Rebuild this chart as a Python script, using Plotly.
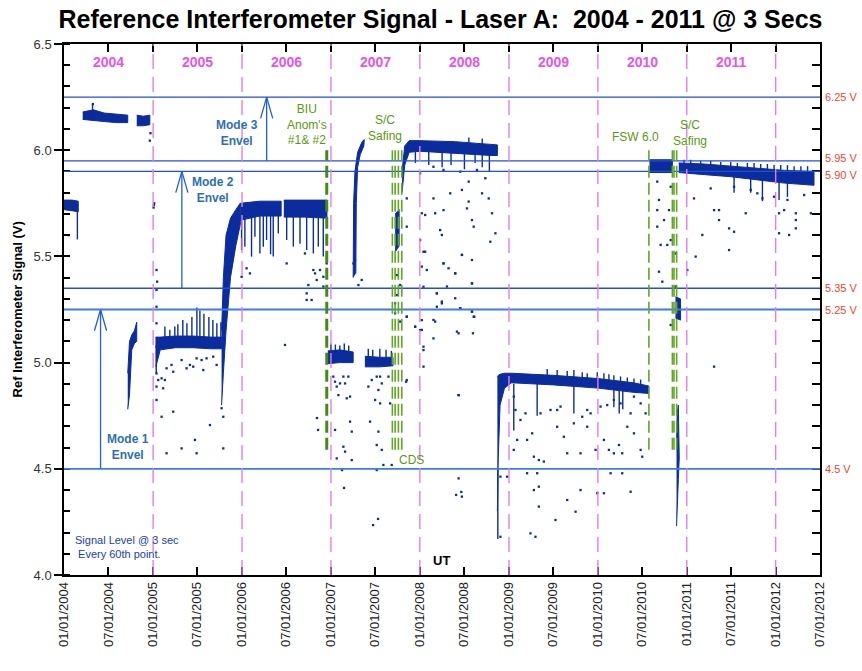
import plotly.graph_objects as go
import pandas as pd

# ---------------- DATA (decimal years, volts) ----------------
NAVY = "#0b2c9c"

# Dense signal bands: decimal year, upper, lower
band_2004a_t = [2004.00, 2004.09, 2004.16]
band_2004a_hi = [5.765, 5.765, 5.76]
band_2004a_lo = [5.72, 5.715, 5.71]

band_2004b_t = [2004.21, 2004.33, 2004.45, 2004.58, 2004.715]
band_2004b_hi = [6.18, 6.19, 6.175, 6.17, 6.165]
band_2004b_lo = [6.145, 6.14, 6.135, 6.13, 6.13]

band_2004c_t = [2004.816, 2004.89, 2004.963]
band_2004c_hi = [6.165, 6.16, 6.165]
band_2004c_lo = [6.115, 6.115, 6.12]

band_2004d_t = [2004.715, 2004.735, 2004.76, 2004.79, 2004.816]
band_2004d_hi = [4.95, 5.10, 5.13, 5.15, 5.19]
band_2004d_lo = [4.78, 4.85, 5.06, 5.09, 5.10]

band_2005_t = [2005.03, 2005.08, 2005.25, 2005.45, 2005.65, 2005.77]
band_2005_hi = [5.12, 5.12, 5.125, 5.125, 5.12, 5.12]
band_2005_lo = [4.98, 5.06, 5.07, 5.07, 5.065, 5.065]

band_2005r_t = [2005.77, 2005.79, 2005.82, 2005.87, 2005.93, 2005.98]
band_2005r_hi = [5.15, 5.40, 5.60, 5.68, 5.72, 5.75]
band_2005r_lo = [4.80, 4.95, 5.15, 5.40, 5.55, 5.65]

band_2006a_t = [2005.98, 2006.2, 2006.44]
band_2006a_hi = [5.75, 5.76, 5.76]
band_2006a_lo = [5.67, 5.69, 5.69]

band_2006b_t = [2006.47, 2006.7, 2006.955]
band_2006b_hi = [5.765, 5.765, 5.765]
band_2006b_lo = [5.685, 5.685, 5.68]

band_2007a_t = [2006.965, 2007.1, 2007.25]
band_2007a_hi = [5.055, 5.06, 5.05]
band_2007a_lo = [4.995, 5.0, 5.0]

band_2007b_t = [2007.382, 2007.55, 2007.698]
band_2007b_hi = [5.03, 5.025, 5.025]
band_2007b_lo = [4.98, 4.98, 4.985]

band_2007c_t = [2007.722, 2007.767]
band_2007c_hi = [5.70, 5.72]
band_2007c_lo = [5.52, 5.55]

band_2008_t = [2007.80, 2007.83, 2007.88, 2008.0, 2008.4, 2008.8, 2008.87]
band_2008_hi = [5.90, 6.02, 6.045, 6.045, 6.04, 6.03, 6.025]
band_2008_lo = [5.80, 5.93, 5.99, 5.995, 5.985, 5.975, 5.975]

band_2009_t = [2008.87, 2008.88, 2008.90, 2008.95, 2009.03, 2009.5, 2010.0, 2010.4, 2010.572]
band_2009_hi = [4.93, 4.94, 4.945, 4.95, 4.95, 4.94, 4.925, 4.905, 4.89]
band_2009_lo = [4.30, 4.55, 4.80, 4.88, 4.905, 4.895, 4.88, 4.86, 4.855]

band_2010_t = [2010.58, 2010.838]
band_2010_hi = [5.955, 5.955]
band_2010_lo = [5.895, 5.895]

band_2010b_t = [2010.873, 2010.93]
band_2010b_hi = [5.31, 5.30]
band_2010b_lo = [5.21, 5.20]

band_2010c_t = [2010.885, 2010.892, 2010.905, 2010.915]
band_2010c_hi = [4.60, 4.76, 4.80, 4.62]
band_2010c_lo = [4.23, 4.24, 4.45, 4.55]

band_2011_t = [2010.91, 2011.2, 2011.5, 2011.8, 2012.1, 2012.43]
band_2011_hi = [5.94, 5.935, 5.925, 5.915, 5.905, 5.90]
band_2011_lo = [5.895, 5.885, 5.875, 5.86, 5.845, 5.835]

# 2007 recovery curve (closed outline: decimal year, volts)
rise_2007_t = [2007.25, 2007.255, 2007.27, 2007.30, 2007.35, 2007.375, 2007.37, 2007.33, 2007.30, 2007.285, 2007.28]
rise_2007_v = [5.40, 5.75, 5.90, 5.99, 6.04, 6.05, 6.02, 5.98, 5.92, 5.75, 5.42]

# Vertical streaks / spikes: decimal year, low, high
streak_t = [2004.15, 2004.32, 2005.035,
            2005.132, 2005.188, 2005.244, 2005.278, 2005.334, 2005.380, 2005.436,
            2005.492, 2005.526, 2005.571, 2005.627, 2005.672, 2005.717, 2005.762,
            2005.995, 2006.032, 2006.107, 2006.145, 2006.201, 2006.239, 2006.276,
            2006.321, 2006.351, 2006.408, 2006.502, 2006.577, 2006.652, 2006.727,
            2006.802, 2006.858, 2006.914,
            2007.0, 2007.05, 2007.1, 2007.15, 2007.2,
            2007.42, 2007.47, 2007.55, 2007.62, 2007.68,
            2007.95, 2008.1, 2008.25, 2008.35, 2008.5, 2008.62, 2008.7, 2008.78,
            2008.55, 2008.7,
            2008.875,
            2009.430, 2009.542, 2009.655, 2009.730, 2009.824, 2009.880, 2009.993,
            2010.068, 2010.124, 2010.180, 2010.255, 2010.331, 2010.406, 2010.481,
            2009.054, 2009.317, 2009.73, 2010.18, 2010.24, 2010.28,
            2010.969, 2011.044, 2011.156, 2011.269, 2011.382, 2011.494, 2011.569,
            2011.682, 2011.757, 2011.832, 2011.907, 2011.982, 2012.057, 2012.132,
            2012.207, 2012.283, 2012.358,
            2011.532, 2011.719, 2011.851, 2012.038, 2012.132]
streak_lo = [5.58, 6.15, 4.95,
             5.10, 5.10, 5.10, 5.10, 5.10, 5.10, 5.10,
             5.10, 5.10, 5.10, 5.10, 5.10, 5.10, 5.10,
             5.53, 5.546, 5.499, 5.593, 5.514, 5.546, 5.577,
             5.51, 5.50, 5.608, 5.577, 5.546, 5.56, 5.53,
             5.514, 5.546, 5.50,
             5.03, 5.03, 5.03, 5.03, 5.03,
             5.0, 5.0, 5.0, 5.0, 5.0,
             5.94, 5.93, 5.92, 5.93, 5.91, 5.94, 5.92, 5.90,
             6.02, 6.02,
             4.17,
             4.92, 4.92, 4.92, 4.92, 4.92, 4.91, 4.91,
             4.90, 4.90, 4.89, 4.89, 4.88, 4.88, 4.87,
             4.68, 4.75, 4.76, 4.79, 4.76, 4.78,
             5.92, 5.92, 5.91, 5.91, 5.90, 5.90, 5.90,
             5.89, 5.89, 5.89, 5.88, 5.88, 5.88, 5.87,
             5.87, 5.87, 5.86,
             5.80, 5.80, 5.76, 5.765, 5.78]
streak_hi = [5.72, 6.215, 5.12,
             5.17, 5.155, 5.17, 5.18, 5.20, 5.185, 5.215,
             5.26, 5.245, 5.23, 5.215, 5.20, 5.185, 5.19,
             5.70, 5.70, 5.70, 5.70, 5.70, 5.70, 5.70,
             5.70, 5.70, 5.70, 5.70, 5.70, 5.70, 5.70,
             5.70, 5.70, 5.70,
             5.09, 5.085, 5.08, 5.09, 5.08,
             5.065, 5.06, 5.065, 5.06, 5.055,
             6.0, 6.0, 6.0, 6.0, 5.99, 5.99, 5.99, 5.99,
             6.06, 6.055,
             4.50,
             4.97, 4.965, 4.96, 4.965, 4.955, 4.95, 4.955,
             4.95, 4.945, 4.94, 4.935, 4.93, 4.925, 4.92,
             4.90, 4.90, 4.89, 4.88, 4.87, 4.87,
             5.955, 5.955, 5.95, 5.95, 5.945, 5.945, 5.94,
             5.94, 5.94, 5.935, 5.935, 5.93, 5.93, 5.93,
             5.925, 5.925, 5.925,
             5.88, 5.87, 5.86, 5.85, 5.85]

# Scattered individual samples: decimal year, volts
pts_t = [
    2004.324, 2004.05, 2004.963, 2004.97,
    2005.008, 2005.012, 2005.005, 2005.038, 2005.045,
    2005.038, 2005.038, 2005.038, 2005.038,
    2005.038, 2005.095, 2005.113, 2005.151, 2005.207, 2005.226, 2005.320, 2005.376,
    2005.451, 2005.489, 2005.545, 2005.601, 2005.676, 2005.714, 2005.095, 2005.226,
    2005.320, 2005.470, 2005.639, 2005.770, 2005.789, 2005.789, 2005.151, 2005.489,
    2005.038, 2005.038, 2005.057, 2005.132, 2005.414, 2005.564,
    2006.051, 2005.995, 2006.089, 2006.502, 2006.802, 2006.840, 2006.746, 2006.915, 2006.915,
    2006.727, 2006.783, 2006.821, 2006.877, 2006.952, 2006.727, 2006.708,
    2007.253, 2007.271, 2007.346, 2007.309, 2006.483, 2006.843, 2006.855,
    2007.027, 2007.046, 2007.065, 2007.102, 2007.140, 2007.159, 2007.196, 2007.215,
    2007.178, 2007.084, 2007.215, 2007.234, 2007.140, 2007.159, 2007.065, 2007.234,
    2007.046, 2007.421, 2007.459, 2007.515, 2007.553, 2007.572, 2007.534, 2007.497,
    2007.553, 2007.440, 2007.534, 2007.515, 2007.572, 2007.647, 2007.666, 2007.590,
    2007.684, 2007.515, 2007.853, 2007.947, 2008.003, 2007.853, 2008.041, 2008.022,
    2008.041, 2008.153, 2008.191, 2008.247, 2008.191, 2008.454, 2008.416, 2008.435,
    2008.585, 2008.604, 2008.172, 2008.266, 2008.473, 2008.585, 2008.322, 2008.397,
    2008.585, 2008.078, 2008.041, 2007.741, 2007.722, 2007.722, 2007.778, 2007.741,
    2007.778, 2007.474, 2007.530, 2007.147, 2007.125, 2008.407, 2008.465,
    2007.853, 2007.853, 2008.022, 2008.060, 2008.172, 2008.153, 2008.266, 2008.341,
    2008.228, 2008.247, 2008.472, 2008.548, 2008.585, 2008.604, 2008.529, 2008.698,
    2008.773, 2008.810, 2008.848, 2008.791, 2008.472, 2008.266, 2008.397, 2008.585,
    2008.060, 2008.022, 2008.003, 2008.041, 2008.191, 2008.247, 2008.397, 2008.454,
    2008.585, 2008.611, 2008.596, 2008.435, 2008.153, 2008.022, 2007.947, 2007.853,
    2008.041, 2007.846, 2008.435, 2008.435, 2008.472, 2008.304,
    2008.153, 2008.266, 2008.454, 2008.641, 2008.735, 2008.548, 2008.003,
    2009.054, 2009.073, 2009.054, 2009.186, 2009.204, 2009.261, 2009.280, 2009.336,
    2009.392, 2009.542, 2009.617, 2009.655, 2009.730, 2009.805, 2009.824, 2009.918,
    2009.974, 2010.068, 2010.124, 2010.180, 2010.237, 2010.274, 2010.331, 2010.406,
    2010.481, 2010.499, 2010.537, 2010.255, 2010.180, 2010.105, 2010.030, 2009.880,
    2009.580, 2009.467, 2009.355, 2009.129, 2009.092, 2009.317, 2009.336, 2009.336,
    2009.280, 2009.655, 2009.805, 2009.993, 2010.068, 2010.143, 2010.274, 2010.368,
    2009.749, 2009.523, 2009.242, 2009.298, 2008.904, 2008.904, 2008.979, 2009.204,
    2009.880, 2009.542, 2010.368, 2010.406, 2010.481,
    2010.668, 2010.687, 2010.668, 2010.668, 2010.744, 2010.800, 2010.706, 2010.781,
    2010.687, 2010.725, 2010.819, 2010.819, 2010.819, 2010.875, 2010.875, 2011.006,
    2011.081, 2011.100, 2011.175, 2011.307, 2011.363, 2011.363, 2011.476, 2011.532,
    2011.476, 2011.307, 2011.663, 2011.851, 2012.038, 2012.095, 2012.226, 2012.226,
    2012.226, 2012.038, 2012.151, 2012.395, 2011.719, 2011.532, 2011.794, 2011.269,
    2011.982, 2012.132, 2012.320]
pts_v = [
    6.217, 5.60, 6.045, 6.08,
    5.742, 5.75, 5.73, 5.436, 5.381,
    5.342, 5.263, 5.185, 5.075,
    4.949, 4.926, 4.879, 4.973, 4.989, 4.957, 5.012, 4.973,
    4.981, 5.020, 5.012, 5.020, 5.028, 4.989, 4.745, 4.769,
    4.596, 4.636, 4.706, 4.785, 4.596, 4.745, 4.573, 4.573,
    4.887, 4.824, 4.918, 4.918, 4.989, 4.965,
    5.444, 5.404, 5.420, 5.467, 5.436, 5.389, 5.365, 5.404, 5.358,
    5.295, 5.295, 5.420, 5.436, 5.467, 5.326, 5.514,
    5.467, 5.483, 5.389, 5.365, 5.083, 4.739, 4.683,
    4.934, 4.910, 4.887, 4.902, 4.934, 4.902, 4.934, 4.840,
    4.832, 4.847, 4.722, 4.675, 4.604, 4.581, 4.549, 4.541,
    4.683, 4.887, 4.918, 4.934, 4.934, 4.902, 4.871, 4.824,
    4.808, 4.722, 4.675, 4.612, 4.589, 4.934, 4.808, 4.518,
    4.518, 4.494, 5.216, 5.169, 5.153, 4.918, 5.075, 5.200,
    4.981, 5.114, 5.326, 5.279, 5.263, 5.255, 5.146, 4.847,
    5.240, 5.216, 5.193, 5.467, 5.507, 5.483, 5.444, 5.420,
    5.373, 5.436, 5.522, 5.412, 5.279, 5.232, 5.193, 5.318,
    5.365, 4.235, 4.264, 4.410, 4.494, 4.377, 4.391,
    5.773, 5.640, 5.703, 5.695, 5.703, 5.773, 5.718, 5.797,
    5.624, 5.601, 5.813, 5.758, 5.671, 5.640, 5.726, 5.797,
    5.773, 5.703, 5.609, 5.569, 5.507, 5.467, 5.420, 5.373,
    5.522, 5.452, 5.577, 5.357, 5.326, 5.287, 5.303, 5.256,
    5.240, 5.216, 5.138, 5.138, 5.201, 5.154, 5.169, 5.216,
    5.059, 4.910, 4.847, 4.455, 4.369, 5.358,
    5.922, 5.907, 5.899, 5.907, 5.868, 5.852, 5.891,
    4.840, 4.777, 4.589, 4.761, 4.636, 4.667, 4.557, 4.541,
    4.534, 4.698, 4.651, 4.573, 4.714, 4.573, 4.745, 4.761,
    4.589, 4.636, 4.589, 4.573, 4.612, 4.573, 4.698, 4.667,
    4.589, 4.557, 4.761, 4.808, 4.824, 4.800, 4.793, 4.698,
    4.793, 4.777, 4.761, 4.730, 4.636, 4.479, 4.416, 4.322,
    4.400, 4.353, 4.400, 4.385, 4.385, 4.479, 4.479, 4.392,
    4.298, 4.259, 4.196, 4.180, 4.180, 4.463, 4.463, 4.479,
    4.777, 4.777, 4.761, 4.840, 4.808,
    5.852, 5.766, 5.718, 5.640, 5.671, 5.718, 5.554, 5.554,
    5.428, 5.381, 5.577, 5.828, 5.177, 5.514, 5.358, 5.436,
    5.773, 5.499, 5.601, 5.718, 5.718, 5.671, 5.632, 5.616,
    5.530, 4.981, 5.703, 5.773, 5.703, 5.718, 5.703, 5.671,
    5.632, 5.609, 5.601, 5.703, 5.813, 5.828, 5.797, 5.820,
    5.781, 5.766, 5.789]

# Reference levels
env_levels = [6.25, 5.95, 5.90, 5.35, 5.25, 4.5]
env_labels = ["6.25 V", "5.95 V", "5.90 V", "5.35 V", "5.25 V", "4.5 V"]
env_label_shift = [0, 3, -4, 0, 0, 0]

# Mode envelope arrows: decimal year, from, to
arrow_t = [2004.41, 2005.323, 2006.277]
arrow_from = [4.5, 5.35, 5.95]
arrow_to = [5.25, 5.90, 6.25]
mode_text = ["Mode 1<br>Envel", "Mode 2<br>Envel", "Mode 3<br>Envel"]
mode_text_t = [2004.715, 2005.676, 2005.939]
mode_text_v = [4.603, 5.813, 6.08]

# Events (green dashed lines): decimal year, strong flag
event_t = [2006.953, 2007.691, 2007.722, 2007.759, 2007.797, 2010.574, 2010.838, 2010.856, 2010.886]
event_strong = [True, False, False, False, False, False, False, False, False]
event_top, event_bottom = 6.0, 4.59
event_text = ["BIU<br>Anom's<br>#1& #2", "S/C<br>Safing", "CDS", "FSW 6.0", "S/C<br>Safing"]
event_text_t = [2006.727, 2007.609, 2007.91, 2010.425, 2011.036]
event_text_v = [6.119, 6.105, 4.541, 6.061, 6.082]

years = list(range(2004, 2012))
year_boundaries = list(range(2005, 2013))

tick_dates = ["2004-01-01", "2004-07-01", "2005-01-01", "2005-07-01", "2006-01-01",
              "2006-07-01", "2007-01-01", "2007-07-01", "2008-01-01", "2008-07-01",
              "2009-01-01", "2009-07-01", "2010-01-01", "2010-07-01", "2011-01-01",
              "2011-07-01", "2012-01-01", "2012-07-01"]
tick_text = ["01/01/2004", "07/01/2004", "01/01/2005", "07/01/2005", "01/01/2006",
             "07/01/2006", "01/01/2007", "07/01/2007", "01/01/2008", "07/01/2008",
             "01/01/2009", "07/01/2009", "01/01/2010", "07/01/2010", "01/01/2011",
             "07/01/2011", "01/01/2012", "07/01/2012"]


# ---------------- helpers ----------------
def d(v):
    if isinstance(v, (list, tuple)):
        return [d(a) for a in v]
    y = int(v)
    s = pd.Timestamp(y, 1, 1)
    e = pd.Timestamp(y + 1, 1, 1)
    return s + (v - y) * (e - s)


FONT = "Liberation Sans, Arial, sans-serif"
fig = go.Figure()

bands = [
    (band_2004a_t, band_2004a_hi, band_2004a_lo), (band_2004b_t, band_2004b_hi, band_2004b_lo),
    (band_2004c_t, band_2004c_hi, band_2004c_lo), (band_2004d_t, band_2004d_hi, band_2004d_lo),
    (band_2005_t, band_2005_hi, band_2005_lo), (band_2005r_t, band_2005r_hi, band_2005r_lo),
    (band_2006a_t, band_2006a_hi, band_2006a_lo), (band_2006b_t, band_2006b_hi, band_2006b_lo),
    (band_2007a_t, band_2007a_hi, band_2007a_lo), (band_2007b_t, band_2007b_hi, band_2007b_lo),
    (band_2007c_t, band_2007c_hi, band_2007c_lo), (band_2008_t, band_2008_hi, band_2008_lo),
    (band_2009_t, band_2009_hi, band_2009_lo), (band_2010_t, band_2010_hi, band_2010_lo),
    (band_2010b_t, band_2010b_hi, band_2010b_lo), (band_2010c_t, band_2010c_hi, band_2010c_lo),
    (band_2011_t, band_2011_hi, band_2011_lo),
]
for t, hi, lo in bands:
    fig.add_trace(go.Scatter(x=d(t + t[::-1]), y=hi + lo[::-1], fill="toself", mode="lines",
                             line=dict(color=NAVY, width=1.0), fillcolor=NAVY,
                             hoverinfo="skip", showlegend=False))
fig.add_trace(go.Scatter(x=d(rise_2007_t), y=rise_2007_v, fill="toself", mode="lines",
                         line=dict(color=NAVY, width=1.0), fillcolor=NAVY, showlegend=False))

sx, sy = [], []
for t, lo, hi in zip(streak_t, streak_lo, streak_hi):
    sx += [d(t), d(t), None]
    sy += [lo, hi, None]
fig.add_trace(go.Scatter(x=sx, y=sy, mode="lines", line=dict(color=NAVY, width=1.4), showlegend=False))

fig.add_trace(go.Scatter(x=d(pts_t), y=pts_v, mode="markers",
                         marker=dict(symbol="square", size=2.3, color=NAVY, line=dict(width=0)),
                         showlegend=False))

# horizontal envelope lines
for lv in env_levels:
    col = "#3b7bf0" if lv in (5.25, 4.5) else "#1f4fd8"
    wid = 1.8 if lv in (5.25, 4.5) else 1.3
    fig.add_shape(type="line", xref="paper", x0=0, x1=1, yref="y", y0=lv, y1=lv,
                  line=dict(color=col, width=wid), layer="above")

# year boundaries
for yb in year_boundaries:
    fig.add_shape(type="line", xref="x", x0=d(yb), x1=d(yb), yref="paper", y0=0, y1=1,
                  line=dict(color="#e57cef", width=1.4, dash="15px,8px"), layer="above")

# events
for t, strong in zip(event_t, event_strong):
    fig.add_shape(type="line", xref="x", x0=d(t), x1=d(t), yref="y", y0=event_bottom, y1=event_top,
                  line=dict(color="#3f8f0c" if strong else "#62a624", width=3 if strong else 1.6,
                            dash="12px,5px"), layer="above")

# arrows
ax, ay = [], []
wing = pd.Timedelta(days=25)
for t, a, b in zip(arrow_t, arrow_from, arrow_to):
    ax += [d(t), d(t), None, d(t) - wing, d(t), d(t) + wing, None]
    ay += [a, b, None, b - 0.1, b, b - 0.1, None]
fig.add_trace(go.Scatter(x=ax, y=ay, mode="lines", line=dict(color="#1f5fe0", width=1.3), showlegend=False))

ann = []
for txt, t, v in zip(mode_text, mode_text_t, mode_text_v):
    ann.append(dict(x=d(t), y=v, xref="x", yref="y", text="<b>" + txt + "</b>", showarrow=False,
                    font=dict(family=FONT, size=12, color="#2e6fb3")))
for txt, t, v in zip(event_text, event_text_t, event_text_v):
    ann.append(dict(x=d(t), y=v, xref="x", yref="y", text=txt, showarrow=False,
                    font=dict(family=FONT, size=12, color="#5a9a12")))
for yv in years:
    ann.append(dict(x=d(yv + 0.5), y=6.415, xref="x", yref="y", text="<b>%d</b>" % yv, showarrow=False,
                    font=dict(family=FONT, size=14, color="#e455e6")))
for lv, lab, sh in zip(env_levels, env_labels, env_label_shift):
    ann.append(dict(x=1, y=lv, xref="paper", yref="y", xanchor="left", xshift=3, yshift=sh,
                    text=lab, showarrow=False, font=dict(family=FONT, size=11, color="#f0442c")))
ann.append(dict(x=d(2004.096), y=4.13, xref="x", yref="y", xanchor="left", align="left",
                text="Signal Level @ 3 sec<br> Every 60th point.", showarrow=False,
                font=dict(family=FONT, size=11, color="#2040b0")))
ann.append(dict(x=d(2008.24), y=4.07, xref="x", yref="y", text="<b>UT</b>", showarrow=False,
                font=dict(family=FONT, size=13, color="black")))
ann.append(dict(x=-0.061, y=0.5, xref="paper", yref="paper", xanchor="center", yanchor="middle",
                textangle=-90, text="<b>Ref Interferometer Signal (V)</b>", showarrow=False,
                font=dict(family=FONT, size=13, color="black")))

fig.update_layout(
    width=862, height=671,
    margin=dict(l=64, r=42, t=44, b=96),
    plot_bgcolor="white", paper_bgcolor="white",
    showlegend=False,
    title=dict(text="<b>Reference Interferometer Signal - Laser A:  2004 - 2011 @ 3 Secs</b>",
               x=0.511, xanchor="center", y=0.985, yanchor="top",
               font=dict(family="Liberation Sans Narrow, Liberation Sans, Arial", size=25, color="black")),
    annotations=ann,
    xaxis=dict(type="date", range=["2004-01-01", "2012-07-01"], tickvals=tick_dates, ticktext=tick_text,
               tickangle=-90, ticks="inside", ticklen=8, tickcolor="black", tickwidth=1.5,
               showline=True, linecolor="black", linewidth=1.5, mirror="ticks", showgrid=False,
               zeroline=False, tickfont=dict(family=FONT, size=13, color="#222")),
    yaxis=dict(range=[4.0, 6.5], tickvals=[4.0, 4.5, 5.0, 5.5, 6.0, 6.5],
               ticktext=["4.0", "4.5", "5.0", "5.5", "6.0", "6.5"],
               ticks="outside", ticklen=8, tickcolor="black", tickwidth=1.5,
               showline=True, linecolor="black", linewidth=1.5, showgrid=False, zeroline=False,
               tickfont=dict(family=FONT, size=13, color="#333"),
               minor=dict(dtick=0.1, ticks="inside", ticklen=6, tickcolor="black", tickwidth=1.5, showgrid=False)),
    yaxis2=dict(range=[4.0, 6.5], overlaying="y", side="right", dtick=0.1, ticks="inside", ticklen=8,
                tickcolor="black", tickwidth=1.5, showticklabels=False, showline=True, linecolor="black",
                linewidth=1.5, showgrid=False, zeroline=False),
)
fig.add_trace(go.Scatter(x=[None], y=[None], yaxis="y2", showlegend=False))

fig.write_html("out.html", config={"displayModeBar": False},
               post_script="document.body.style.margin='0px';document.body.style.padding='0px';")
